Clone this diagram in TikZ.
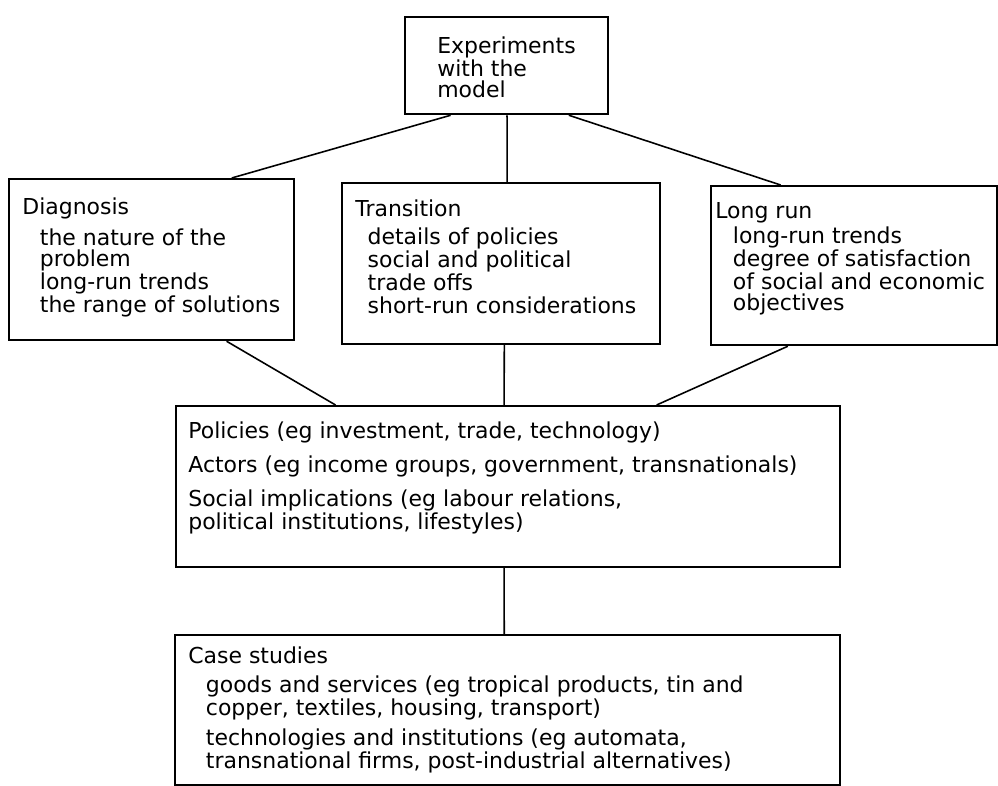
\documentclass[tikz,border=0pt]{standalone}
\usepackage{fontspec}
\setmainfont{DejaVu Sans}
\usetikzlibrary{calc}

\begin{document}
\begin{tikzpicture}[x=0.02cm, y=-0.02cm,
    box/.style={draw, line width=1.3pt, inner sep=0pt, anchor=north west},
    txt/.style={align=left, anchor=north west, inner sep=0pt,
      font=\fontsize{12.5}{12}\selectfont},
    link/.style={line width=0.9pt}]
    \useasboundingbox (0,0) rectangle (998,786);

    % boxes
    \node[box, minimum width=4.06cm, minimum height=1.94cm] (exp) at (404,16) {};
    \node[box, minimum width=5.70cm, minimum height=3.22cm] (diag) at (8,178) {};
    \node[box, minimum width=6.36cm, minimum height=3.22cm] (trans) at (341,182) {};
    \node[box, minimum width=5.72cm, minimum height=3.18cm] (long) at (710,185) {};
    \node[box, minimum width=13.28cm, minimum height=3.22cm] (pol) at (175,405) {};
    \node[box, minimum width=13.30cm, minimum height=3.00cm] (case) at (174,634) {};

    % texts
    \node[txt] (exptxt) at (437,36.5) {Experiments\\with the\\model};
    \node[txt] (diagtxt) at (22,197) {Diagnosis\\[5pt]
      \hspace*{10pt}the nature of the\\
      \hspace*{10pt}problem\\
      \hspace*{10pt}long-run trends\\
      \hspace*{10pt}the range of solutions};
    \node[txt] (transtxt) at (355,199) {Transition\\[4pt]
      \hspace*{7pt}details of policies\\
      \hspace*{7pt}social and political\\
      \hspace*{7pt}trade offs\\[1pt]
      \hspace*{7pt}short-run considerations};
    \node[txt] (longtxt) at (715,202) {Long run\\[1pt]
      \hspace*{10pt}long-run trends\\
      \hspace*{10pt}degree of satisfaction\\
      \hspace*{10pt}of social and economic\\
      \hspace*{10pt}objectives};
    \node[txt] (poltxt) at (188,421) {Policies (eg investment, trade, technology)\\[6.5pt]
      Actors (eg income groups, government, transnationals)\\[6.5pt]
      Social implications (eg labour relations,\\
      political institutions, lifestyles)};
    \node[txt] (casetxt) at (188,646) {Case studies\\[4.5pt]
      \hspace*{10pt}goods and services (eg tropical products, tin and\\
      \hspace*{10pt}copper, textiles, housing, transport)\\[4.5pt]
      \hspace*{10pt}technologies and institutions (eg automata,\\
      \hspace*{10pt}transnational firms, post-industrial alternatives)};

    % connectors
    \draw[link] ($(exp.south west)!.227!(exp.south east)$) -- ($(diag.north west)!.779!(diag.north east)$);
    \draw[link] ($(exp.south west)!.502!(exp.south east)$) -- ($(trans.north west)!.519!(trans.north east)$);
    \draw[link] ($(exp.south west)!.803!(exp.south east)$) -- ($(long.north west)!.245!(long.north east)$);
    \draw[link] ($(diag.south west)!.761!(diag.south east)$) -- ($(pol.north west)!.241!(pol.north east)$);
    \draw[link] ($(trans.south west)!.51!(trans.south east)$) -- ($(pol.north west)!.494!(pol.north east)$);
    \draw[link] ($(long.south west)!.27!(long.south east)$) -- ($(pol.north west)!.723!(pol.north east)$);
    \draw[link] ($(pol.south west)!.494!(pol.south east)$) -- ($(case.north west)!.495!(case.north east)$);
\end{tikzpicture}
\end{document}
